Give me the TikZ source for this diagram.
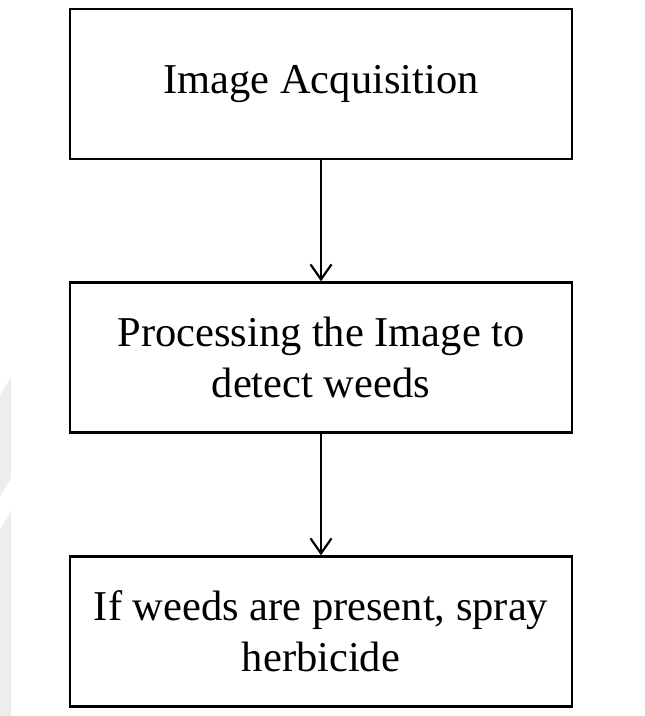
\documentclass[tikz,border=0pt]{standalone}
\usepackage{fontspec}
\setmainfont{Liberation Serif}
\usetikzlibrary{arrows.meta}
\begin{document}
\begin{tikzpicture}[x=1pt,y=1pt,
    box/.style={draw, line width=2.4pt, minimum width=502pt, minimum height=150pt,
      align=center, font=\fontsize{42.5}{51}\selectfont},
    flow/.style={line width=2.2pt, -{Straight Barb[length=15pt,width=21pt]}}]
  \useasboundingbox (0,0) rectangle (645,-716);
  % faint mark on the left edge
  \fill[gray!14] (0,-395) -- (11,-377) -- (11,-478) -- (0,-497) -- cycle;
  \fill[gray!14] (0,-530) -- (11,-510) -- (11,-716) -- (0,-716) -- cycle;
  \draw
    (321,-84) node[box] (acq) {Image Acquisition}
    (321,-357.5) node[box] (proc) {Processing the Image to\\detect weeds}
    (321,-631.5) node[box] (spray) {If weeds are present, spray\\herbicide};
  \begin{scope}[flow]
    \draw (acq) to (proc);
    \draw (proc) to (spray);
  \end{scope}
\end{tikzpicture}
\end{document}
